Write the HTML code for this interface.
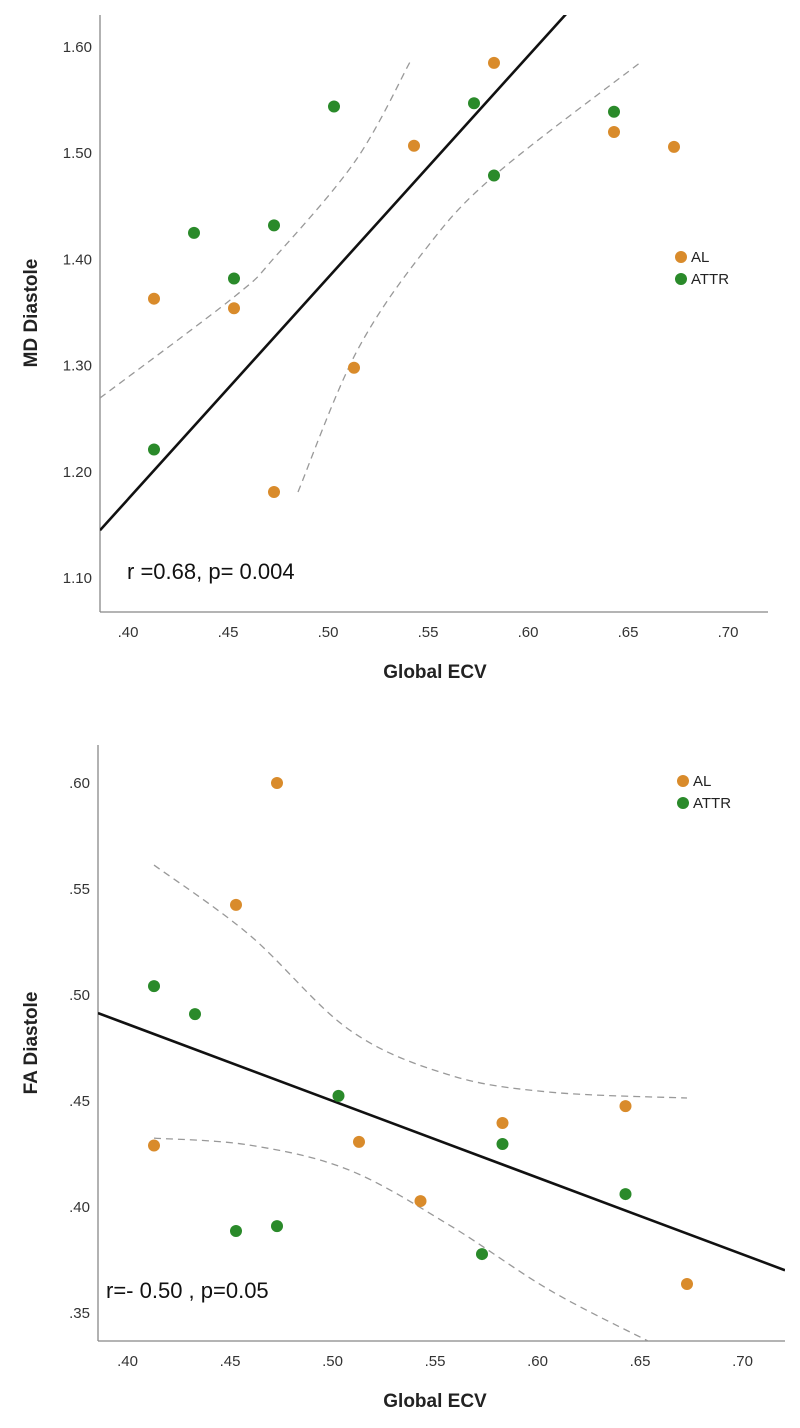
<!DOCTYPE html>
<html><head><meta charset="utf-8"><style>
body{margin:0;background:#fff}
svg{display:block;font-family:"Liberation Sans",sans-serif}
</style></head><body>
<svg id="s" width="800" height="1428" viewBox="0 0 800 1428"></svg>
<script>
// ---- chart 1 data ----
const xTicks1=[.40,.45,.50,.55,.60,.65,.70];
const yTicks1=[1.10,1.20,1.30,1.40,1.50,1.60];
const alX1=[.41,.45,.47,.51,.54,.58,.64,.67];
const alY1=[1.363,1.354,1.181,1.298,1.507,1.585,1.520,1.506];
const attrX1=[.41,.43,.45,.47,.50,.57,.58,.64];
const attrY1=[1.221,1.425,1.382,1.432,1.544,1.547,1.479,1.539];
const fit1=[0.346,2.086];
const ciUpX1=[.383,.45,.4705,.511,.538];
const ciUpY1=[1.2695,1.3646,1.4023,1.4936,1.5859];
const ciLoX1=[.482,.511,.5455,.5805,.6535];
const ciLoY1=[1.181,1.312,1.409,1.4795,1.5859];
// ---- chart 2 data ----
const xTicks2=[.40,.45,.50,.55,.60,.65,.70];
const yTicks2=[.35,.40,.45,.50,.55,.60];
const alX2=[.41,.45,.47,.51,.54,.58,.64,.67];
const alY2=[.429,.5425,.60,.4307,.4028,.4396,.4476,.3637];
const attrX2=[.41,.43,.45,.47,.50,.57,.58,.64];
const attrY2=[.5042,.491,.3887,.391,.4524,.3778,.4297,.4061];
const fit2=[0.630,-0.362];
const ciUpX2=[.41,.4566,.5054,.554,.603,.67];
const ciUpY2=[.5613,.5283,.4835,.4623,.4542,.4514];
const ciLoX2=[.41,.4566,.505,.554,.603,.652];
const ciLoY2=[.4325,.4292,.4175,.3915,.3608,.3363];

const NS="http://www.w3.org/2000/svg";
const svg=document.getElementById('s');
function mk(tag,attrs,parent){const e=document.createElementNS(NS,tag);for(const k in attrs)e.setAttribute(k,attrs[k]);(parent||svg).appendChild(e);return e;}
function smooth(pts){let d='M'+pts[0][0]+','+pts[0][1];for(let i=1;i<pts.length;i++){const p0=pts[i-2]||pts[i-1],p1=pts[i-1],p2=pts[i],p3=pts[i+1]||p2;
 d+=' C'+(p1[0]+(p2[0]-p0[0])/6)+','+(p1[1]+(p2[1]-p0[1])/6)+' '+(p2[0]-(p3[0]-p1[0])/6)+','+(p2[1]-(p3[1]-p1[1])/6)+' '+p2[0]+','+p2[1];}return d;}

function chart(c){
 const g=mk('g',{});
 
 
 const X=v=>c.x0+(v-c.xv0)*c.xs, Y=v=>c.y0-(v-c.yv0)*c.ys;
 const cid='clip'+c.name;
 const cp=mk('clipPath',{id:cid},g);mk('rect',{x:c.L,y:c.T,width:c.R-c.L,height:c.B-c.T},cp);
 const ya=mk('line',{x1:c.L,y1:c.T,x2:c.L,y2:c.B,stroke:'#888','stroke-width':1.3},g);
 
 
 const xa=mk('line',{x1:c.L,y1:c.B,x2:c.R,y2:c.B,stroke:'#888','stroke-width':1.3},g);
 
 
 c.xt.forEach(v=>{const t=mk('text',{x:X(v)-6,y:c.B+25,'text-anchor':'middle','font-size':15,fill:'#333'},g);t.textContent=v.toFixed(2).replace(/^0/,'');
  
  });
 c.yt.forEach(v=>{const t=mk('text',{x:c.L-8,y:Y(v)+5,'text-anchor':'end','font-size':15,fill:'#333'},g);t.textContent=v.toFixed(2).replace(/^0/,'');
  
  });
 const xt=mk('text',{x:435,y:c.B+66,'text-anchor':'middle','font-size':19,'font-weight':'bold',fill:'#222'},g);xt.textContent='Global ECV';
 
 
 const yt=mk('text',{x:0,y:0,transform:`translate(37,${c.ytY}) rotate(-90)`,'text-anchor':'middle','font-size':19,'font-weight':'bold',fill:'#222'},g);yt.textContent=c.ytitle;
 
 
 const pg=mk('g',{'clip-path':`url(#${cid})`},g);
 [[c.cuX,c.cuY,'ci-upper'],[c.clX,c.clY,'ci-lower']].forEach(([xs,ys,n])=>{
  const p=mk('path',{d:smooth(xs.map((v,i)=>[X(v),Y(ys[i])])),fill:'none',stroke:'#999','stroke-width':1.3,'stroke-dasharray':'7,5'},pg);
  
  });
 const xa0=c.xv0+(c.L-c.x0)/c.xs, xa1=c.xv0+(c.R-c.x0)/c.xs;
 const fl=mk('line',{x1:X(xa0),y1:Y(c.fit[0]+c.fit[1]*xa0),x2:X(xa1),y2:Y(c.fit[0]+c.fit[1]*xa1),stroke:'#111','stroke-width':2.6},pg);
 
 
 [[c.ax,c.ay,'#d98b2b','al-point'],[c.tx,c.ty,'#2a8a2a','attr-point']].forEach(([xs,ys,col,n])=>{
  xs.forEach((v,i)=>{const p=mk('circle',{cx:X(v),cy:Y(ys[i]),r:6,fill:col},pg);
   
   });});
 [['AL','#d98b2b',0],['ATTR','#2a8a2a',22]].forEach(([l,col,dy])=>{
  const lc=mk('circle',{cx:c.lgX,cy:c.lgY+dy,r:6,fill:col},g);
  
  
  const lt=mk('text',{x:c.lgX+10,y:c.lgY+dy+5,'font-size':15,fill:'#222'},g);lt.textContent=l;
  
  });
 const an=mk('text',{x:c.anX,y:c.anY,'font-size':22,fill:'#111'},g);an.textContent=c.ann;
 
 
}
chart({name:'md-chart',L:100,T:15,R:768,B:612,x0:134,xv0:.40,xs:2000,y0:578,yv0:1.10,ys:1062,
 xt:xTicks1,yt:yTicks1,ax:alX1,ay:alY1,tx:attrX1,ty:attrY1,fit:fit1,cuX:ciUpX1,cuY:ciUpY1,clX:ciLoX1,clY:ciLoY1,
 ytitle:'MD Diastole',ytY:313,lgX:681,lgY:257,ann:'r =0.68, p= 0.004',anX:127,anY:579});
chart({name:'fa-chart',L:98,T:745,R:785,B:1341,x0:133.5,xv0:.40,xs:2050,y0:1313,yv0:.35,ys:2120,
 xt:xTicks2,yt:yTicks2,ax:alX2,ay:alY2,tx:attrX2,ty:attrY2,fit:fit2,cuX:ciUpX2,cuY:ciUpY2,clX:ciLoX2,clY:ciLoY2,
 ytitle:'FA Diastole',ytY:1043,lgX:683,lgY:781,ann:'r=- 0.50 , p=0.05',anX:106,anY:1298});
</script>
</body></html>
